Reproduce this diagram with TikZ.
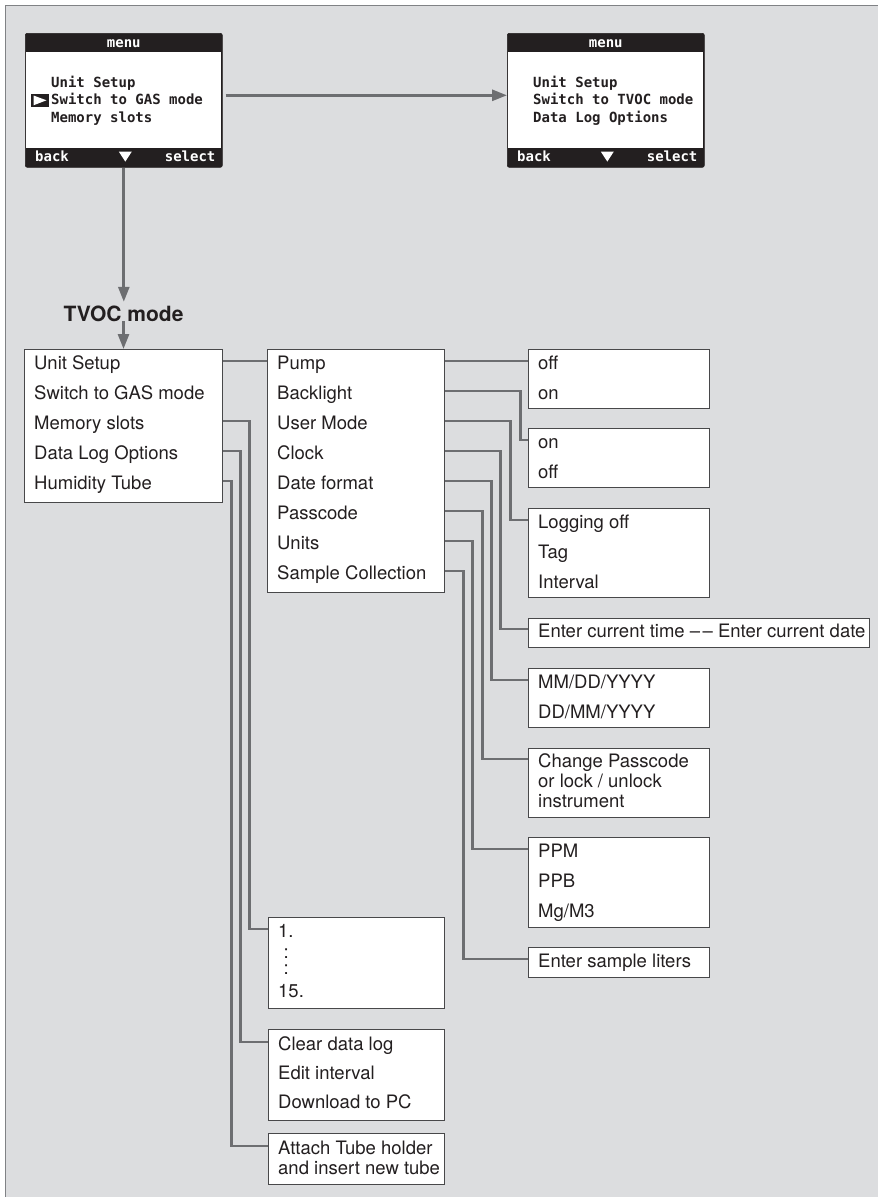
\documentclass[tikz,border=0pt]{standalone}
\usepackage{fontspec}
\setmainfont{TeX Gyre Heros}
\newfontfamily\scrf{DejaVu Sans Mono}
\usetikzlibrary{arrows.meta,calc}
\definecolor{bgc}{HTML}{DCDDDF}
\definecolor{linec}{HTML}{6D6E71}
\definecolor{boxc}{HTML}{48484A}
\definecolor{txt}{HTML}{231F20}
\definecolor{scr}{HTML}{231F20}
\definecolor{framec}{HTML}{808285}
\pgfdeclarelayer{bg}
\pgfsetlayers{bg,main}
\begin{document}
\begin{tikzpicture}[x=1pt,y=-1pt,
  box/.style={draw=boxc, line width=1.3pt, fill=white, anchor=north west, inner sep=0pt},
  itm/.style={anchor=base west, inner sep=0pt, text height=16pt, text depth=0pt, text=txt, font=\fontsize{18.5}{22}\selectfont},
  conn/.style={draw=linec, line width=2.4pt},
  arr/.style={draw=linec, line width=2.8pt, -{Triangle[length=15pt,width=11pt]}},
  screen/.style={fill=scr, draw=scr, line width=0.6pt, rounded corners=2pt, anchor=north west, inner sep=0pt, minimum width=197pt, minimum height=134pt},
  scrt/.style={inner sep=0pt, text=scr, font=\scrf\bfseries\fontsize{14}{16}\selectfont},
  scrw/.style={scrt, text=white}
]
\useasboundingbox (0,0) rectangle (878,1197);
\begin{pgfonlayer}{bg}
\fill[white] (0,0) rectangle (878,1197);
\fill[bgc] (5,5) rectangle (878,1197);
\draw[framec, line width=1pt] (5,1197) -- (5,5) -- (878,5);
\end{pgfonlayer}

% ---------- screen 1
\node[screen] (s1) at (25,33) {};
\fill[white] ($(s1.north west)+(1.3,19)$) rectangle ($(s1.south east)+(-1.3,-20)$);
\node[scrw, anchor=base] (s1t) at ($(s1.north)+(0,14)$) {menu};
\node[scrw, anchor=base west] (s1b) at ($(s1.south west)+(10,-6.5)$) {back};
\node[scrw, anchor=base east] (s1s) at ($(s1.south east)+(-7,-6.5)$) {select};
\fill[white] ($(s1.south)+(-5,-16)$) -- ++(13,0) -- ++(-6.5,10) -- cycle;
\node[scrt, anchor=base west] (s1i1) at (51,87) {Unit Setup};
\node[scrt, anchor=base west] (s1i2) at (51,104.5) {Switch to GAS mode};
\node[scrt, anchor=base west] (s1i3) at (51,122) {Memory slots};
\fill[scr] (31,93.5) rectangle (48.5,107);
\fill[white] (33.5,95.5) -- (46.5,100.3) -- (33.5,105.3) -- cycle;

% ---------- screen 2
\node[screen] (s2) at (507,33) {};
\fill[white] ($(s2.north west)+(1.3,19)$) rectangle ($(s2.south east)+(-1.3,-20)$);
\node[scrw, anchor=base] (s2t) at ($(s2.north)+(0,14)$) {menu};
\node[scrw, anchor=base west] (s2b) at ($(s2.south west)+(10,-6.5)$) {back};
\node[scrw, anchor=base east] (s2s) at ($(s2.south east)+(-7,-6.5)$) {select};
\fill[white] ($(s2.south)+(-5,-16)$) -- ++(13,0) -- ++(-6.5,10) -- cycle;
\node[scrt, anchor=base west] (s2i1) at (533,87) {Unit Setup};
\node[scrt, anchor=base west] (s2i2) at (533,104.5) {Switch to TVOC mode};
\node[scrt, anchor=base west] (s2i3) at (533,122) {Data Log Options};

% ---------- TVOC label
\node[anchor=base, inner sep=0pt, text height=19pt, text depth=0pt, text=txt, font=\bfseries\fontsize{21}{24}\selectfont] (tv) at (123.5,321) {TVOC mode};

% ---------- column 1
\node[box, minimum width=198pt, minimum height=153pt] (b1) at (24,349) {};
\node[itm] (us) at (34,369) {Unit Setup};
\node[itm] (sg) at (34,399) {Switch to GAS mode};
\node[itm] (ms) at (34,429) {Memory slots};
\node[itm] (dl) at (34,459) {Data Log Options};
\node[itm] (ht) at (34,489) {Humidity Tube};

% ---------- column 2
\node[box, minimum width=177pt, minimum height=243pt] (b2) at (267,349) {};
\node[itm] (pump) at (277,369) {Pump};
\node[itm] (bl) at (277,399) {Backlight};
\node[itm] (um) at (277,429) {User Mode};
\node[itm] (clk) at (277,459) {Clock};
\node[itm] (df) at (277,489) {Date format};
\node[itm] (pc) at (277,519) {Passcode};
\node[itm] (un) at (277,549) {Units};
\node[itm] (sc) at (277,579) {Sample Collection};

% ---------- right column
\node[box, minimum width=181pt, minimum height=59pt] (r1) at (528,349) {};
\node[itm] (r1a) at (538,369) {off};
\node[itm] (r1b) at (538,399) {on};
\node[box, minimum width=181pt, minimum height=59pt] (r2) at (528,428) {};
\node[itm] (r2a) at (538,448) {on};
\node[itm] (r2b) at (538,478) {off};
\node[box, minimum width=181pt, minimum height=89pt] (r3) at (528,508) {};
\node[itm] (r3a) at (538,528) {Logging off};
\node[itm] (r3b) at (538,558) {Tag};
\node[itm] (r3c) at (538,588) {Interval};
\node[box, minimum width=341pt, minimum height=29pt] (r4) at (528,618) {};
\node[itm] (r4a) at (538,637) {Enter current time –\kern2.5pt–~Enter current date};
\node[box, minimum width=181pt, minimum height=59pt] (r5) at (528,668) {};
\node[itm] (r5a) at (538,688) {MM/DD/YYYY};
\node[itm] (r5b) at (538,718) {DD/MM/YYYY};
\node[box, minimum width=181pt, minimum height=69pt] (r6) at (528,748) {};
\node[itm] (r6a) at (538,767) {Change Passcode};
\node[itm] (r6b) at (538,787) {or lock / unlock};
\node[itm] (r6c) at (538,807) {instrument};
\node[box, minimum width=181pt, minimum height=90pt] (r7) at (528,837) {};
\node[itm] (r7a) at (538,857) {PPM};
\node[itm] (r7b) at (538,887) {PPB};
\node[itm] (r7c) at (538,917) {Mg/M3};
\node[box, minimum width=181pt, minimum height=30pt] (r8) at (528,947) {};
\node[itm] (r8a) at (538,967) {Enter sample liters};

% ---------- lower column
\node[box, minimum width=176pt, minimum height=91pt] (l1) at (268,917) {};
\node[itm] (l1a) at (278,937) {1.};
\node[anchor=north west, inner sep=0pt, align=left, text=txt, font=\fontsize{18.5}{16}\selectfont] (l1c) at (283.4,949) {:\\:};
\node[itm] (l1b) at (278,997) {15.};
\node[box, minimum width=176pt, minimum height=91pt] (l2) at (268,1029) {};
\node[itm] (l2a) at (278,1050) {Clear data log};
\node[itm] (l2b) at (278,1079) {Edit interval};
\node[itm] (l2c) at (278,1108) {Download to PC};
\node[box, minimum width=176pt, minimum height=51pt] (l3) at (268,1133) {};
\node[itm] (l3a) at (278,1154) {Attach Tube holder};
\node[itm] (l3b) at (278,1174) {and insert new tube};

% ---------- arrows and connectors
\begin{pgfonlayer}{bg}
\draw[arr] ($(s1.east)+(3,-5)$) -- ($(s2.west)+(0,-5)$);
\draw[arr] (s1.south) -- (s1.south |- tv.north);
\draw[arr] (tv.south) -- (tv.south |- b1.north);
\draw[conn] (b1.east |- us) -- (b2.west |- us);
\draw[conn] (b2.east |- pump) -- (r1.west |- pump);
\draw[conn] (b2.east |- bl) -- ++(75,0) |- (r2.west |- r2a);
\draw[conn] (b2.east |- um) -- ++(65,0) |- (r3.west |- r3a);
\draw[conn] (b2.east |- clk) -- ++(55,0) |- (r4.west |- r4a);
\draw[conn] (b2.east |- df) -- ++(46,0) |- (r5.west |- r5a);
\draw[conn] (b2.east |- pc) -- ++(37,0) |- (r6.west |- r6a);
\draw[conn] (b2.east |- un) -- ++(27,0) |- (r7.west |- r7a);
\draw[conn] (b2.east |- sc) -- ++(18,0) |- (r8.west |- r8a);
\draw[conn] (b1.east |- ms) -- ++(26,0) |- (l1.west |- l1a);
\draw[conn] (b1.east |- dl) -- ++(17,0) |- (l2.west |- l2a);
\draw[conn] (b1.east |- ht) -- ++(8,0) |- (l3.west |- l3a);
\end{pgfonlayer}
\end{tikzpicture}
\end{document}
